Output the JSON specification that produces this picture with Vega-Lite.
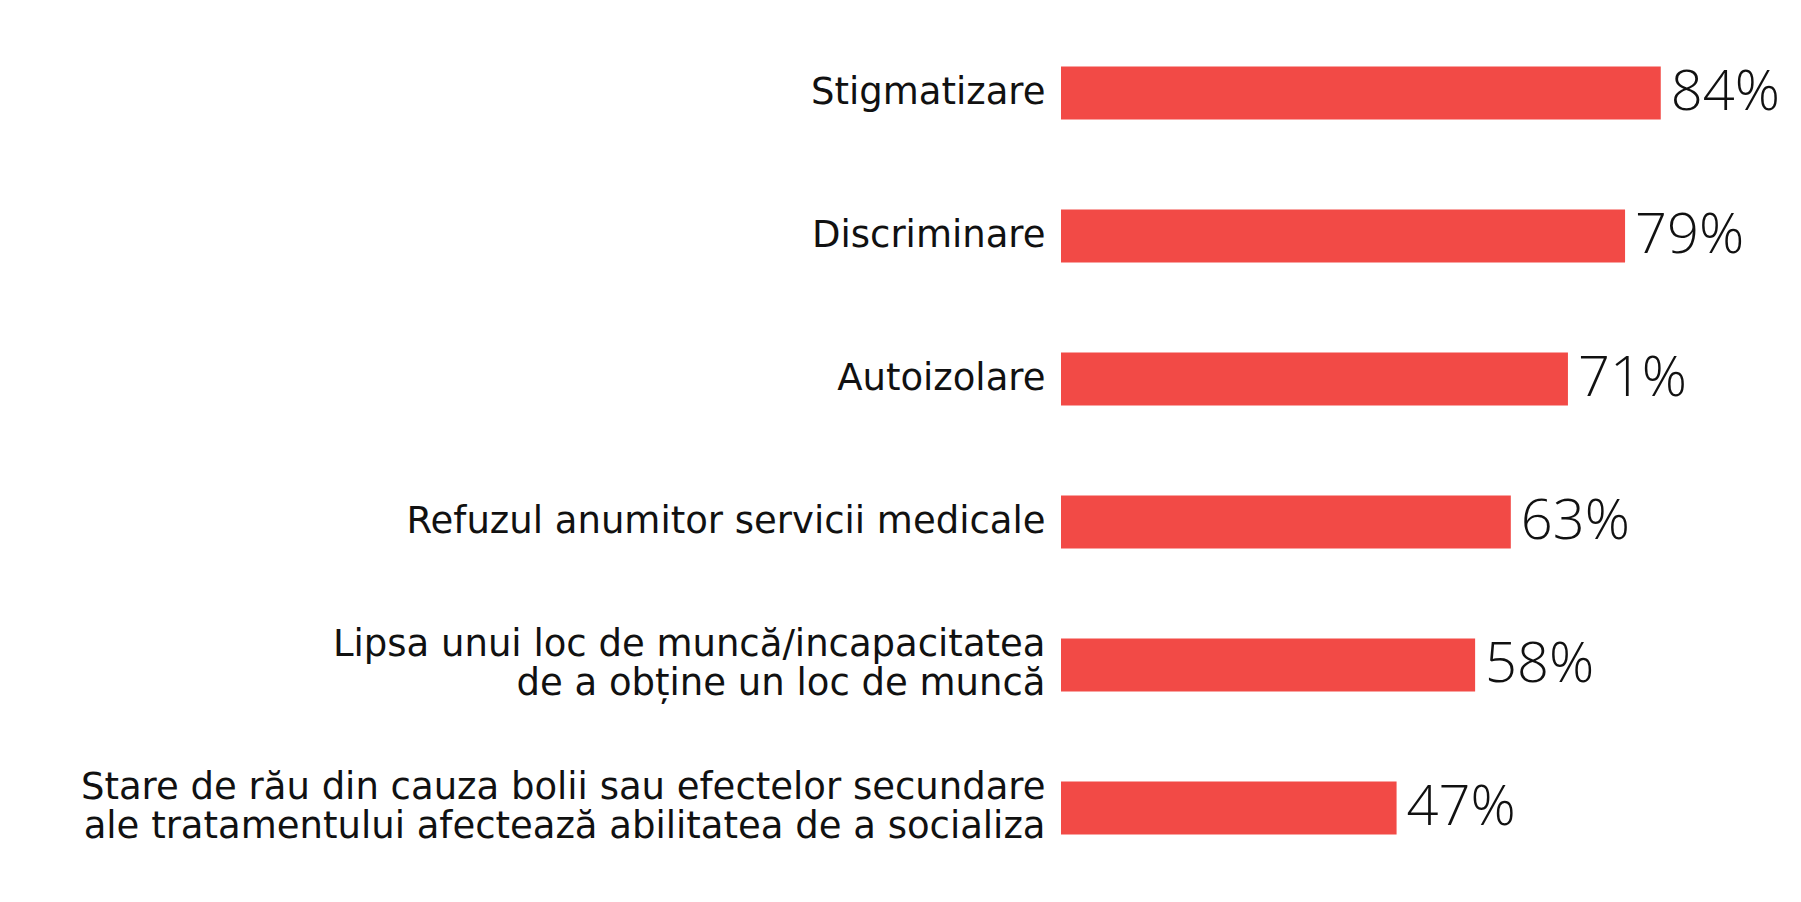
{
  "$schema": "https://vega.github.io/schema/vega-lite/v6.json",
  "autosize": "none",
  "width": 714,
  "height": 858,
  "padding": {"left": 1061, "top": 21.5, "right": 26, "bottom": 22.5},
  "background": "white",
  "config": {"view": {"stroke": null}},
  "data": {
    "values": [
      {"label": "Stigmatizare", "value": 0.84},
      {"label": "Discriminare", "value": 0.79},
      {"label": "Autoizolare", "value": 0.71},
      {"label": "Refuzul anumitor servicii medicale", "value": 0.63},
      {"label": "Lipsa unui loc de muncă/incapacitatea|de a obține un loc de muncă", "value": 0.58},
      {"label": "Stare de rău din cauza bolii sau efectelor secundare|ale tratamentului afectează abilitatea de a socializa", "value": 0.47}
    ]
  },
  "encoding": {
    "y": {
      "field": "label",
      "type": "nominal",
      "sort": null,
      "scale": {"paddingInner": 0.63, "paddingOuter": 0.315},
      "axis": {
        "title": null,
        "domain": false,
        "ticks": false,
        "labelExpr": "split(datum.label, '|')",
        "labelFont": "DejaVu Sans",
        "labelFontSize": 37,
        "labelColor": "#111111",
        "labelPadding": 16,
        "labelLineHeight": 39,
        "labelLimit": 1100,
        "labelBaseline": {"condition": {"test": "indexof(datum.value, '|') >= 0", "value": "line-bottom"}, "value": "middle"}
      }
    },
    "x": {
      "field": "value",
      "type": "quantitative",
      "scale": {"domain": [0, 1]},
      "axis": null
    }
  },
  "layer": [
    {"mark": {"type": "bar", "color": "#F24A46"}},
    {
      "mark": {"type": "text", "align": "left", "baseline": "middle", "dx": 10, "font": "Open Sans", "fontWeight": 300, "fontSize": 56, "color": "#111111"},
      "encoding": {"text": {"field": "value", "type": "quantitative", "format": ".0%"}}
    }
  ]
}
